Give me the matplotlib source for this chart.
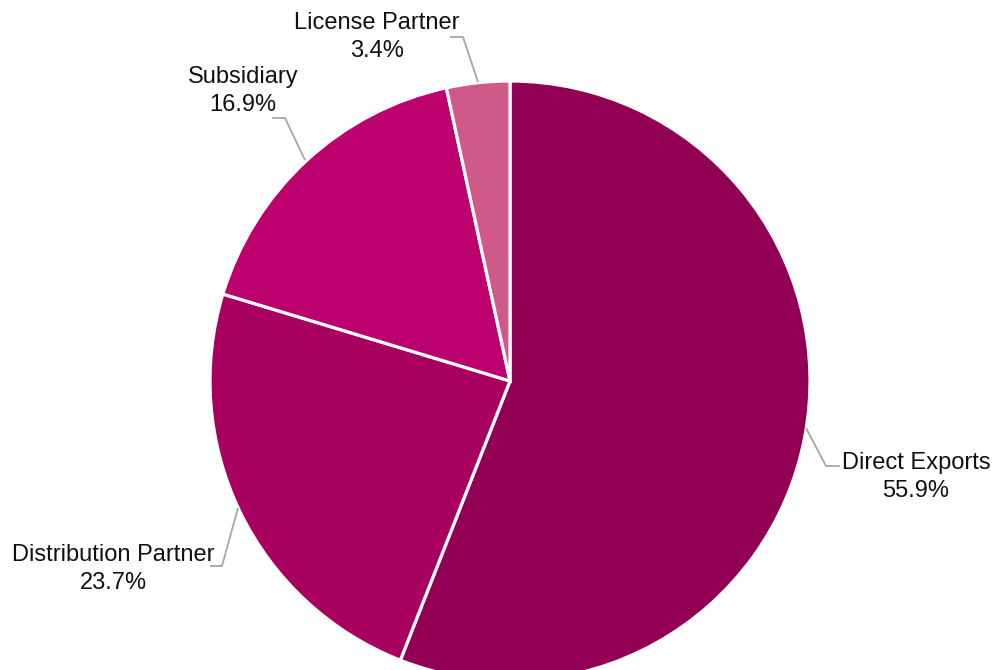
import matplotlib
matplotlib.use("Agg")
import matplotlib.pyplot as plt

categories = ["Direct Exports", "Distribution Partner", "Subsidiary", "License Partner"]
values = [55.9, 23.7, 16.9, 3.4]
colors = ["#910052", "#A8005F", "#BC006E", "#CF5A8A"]

W, H = 997, 670
fig = plt.figure(figsize=(W / 100, H / 100), dpi=100)
ax = fig.add_axes([0, 0, 1, 1])
ax.set_xlim(0, W)
ax.set_ylim(0, H)
ax.set_aspect("equal")
ax.axis("off")

def Y(py):
    return H - py

cx, cy, r = 510, Y(381), 300
ax.pie(values, colors=colors, startangle=90, counterclock=False,
       center=(cx, cy), radius=r,
       wedgeprops=dict(edgecolor="white", linewidth=2.3), frame=True)
ax.set_xlim(0, W)
ax.set_ylim(0, H)
ax.axis("off")

fs = 17
fam = ["Liberation Sans", "DejaVu Sans"]
lc = "#A6A6A6"

# leader lines (pixel coords)
lines = {
    "Direct Exports": [(806, 428), (826, 466), (840, 466)],
    "Distribution Partner": [(238, 508), (222, 566), (210, 566)],
    "Subsidiary": [(305, 160), (285, 118), (272, 118)],
    "License Partner": [(478, 82), (463, 37), (450, 37)],
}
labels = {
    "Direct Exports": (916, 477),
    "Distribution Partner": (113, 569),
    "Subsidiary": (243, 91),
    "License Partner": (377, 37),
}
for cat, val in zip(categories, values):
    pts = lines[cat]
    ax.plot([p[0] for p in pts], [Y(p[1]) for p in pts], color=lc, lw=1.3,
            solid_capstyle="butt")
    x, y = labels[cat]
    ax.text(x, Y(y), f"{cat}\n{val:.1f}%", ha="center", va="center",
            fontsize=fs, family=fam, color="#111111", linespacing=1.4)

fig.savefig("out.png", dpi=100)
